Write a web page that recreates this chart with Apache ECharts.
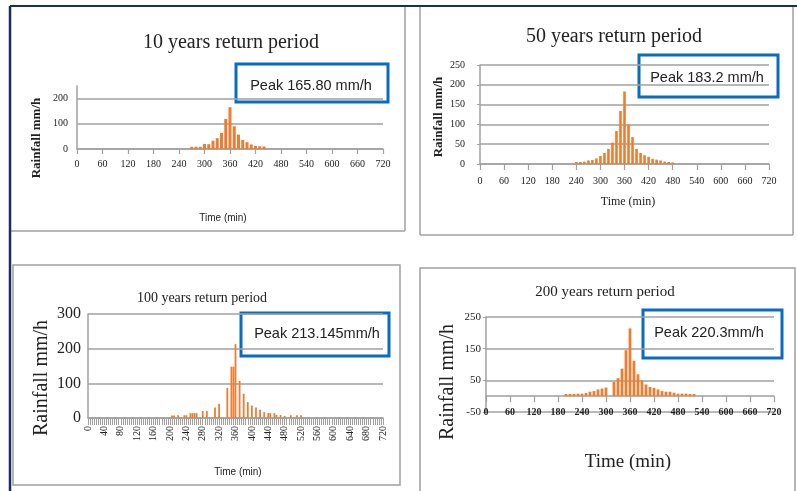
<!DOCTYPE html>
<html><head><meta charset="utf-8">
<script src="https://cdn.jsdelivr.net/npm/echarts@6/dist/echarts.min.js"></script>
<style>html,body{margin:0;padding:0;background:#fff}#c{width:797px;height:491px}</style>
</head><body><div id="c"></div>
<script>
// ---- data ----
const times10 = [270,280,290,300,310,320,330,340,350,360,370,380,390,400,410,420,430,440];
const rain10  = [9,9,9,20,19,33,43,64,119,165.8,90,57,36,27,18,12,11,10];

const times50 = [240,250,260,270,280,290,300,310,320,330,340,350,360,370,380,390,400,410,420,430,440,450,460,470,480];
const rain50  = [5,5,6,9,10,14,20,28,38,54,83,134,183.2,100,68,38,28,22,18,13,11,9,6,5,4];

const times100 = [205,210,220,235,240,250,255,260,265,280,290,310,320,340,350,355,360,370,380,390,400,410,420,430,440,445,455,460,470,480,495,510,520];
const rain100  = [7,7,8,8,8,14,14,14,14,20,20,30,41,87,148,148,213.1,107,70,46,36,30,24,17,14,14,14,9,9,6,8,8,8];

const times200 = [200,210,220,230,240,250,260,270,280,290,300,320,330,340,350,360,370,380,390,400,410,420,430,440,450,460,470,480,490,500,510,520];
const rain200  = [7,7,7,8,8,10,14,16,21,24,27,45,57,87,145,214,112,69,50,37,29,26,21,16,14,14,11,8,8,8,7,7];

const xTicks60 = [0,60,120,180,240,300,360,420,480,540,600,660,720];
const xTicks40 = [0,40,80,120,160,200,240,280,320,360,400,440,480,520,560,600,640,680,720];
const yTicks10 = [0,100,200];
const yTicks50 = [0,50,100,150,200,250];
const yTicks100 = [0,100,200,300];
const yTicks200 = [-50,50,150,250];

const titles = ['10 years return period','50 years return period','100 years return period','200 years return period'];
const peaks = ['Peak 165.80 mm/h','Peak 183.2 mm/h','Peak 213.145mm/h','Peak 220.3mm/h'];

// ---- styling ----
const SERIF = '"Liberation Serif", "Times New Roman", serif';
const SANS = '"Liberation Sans", Arial, sans-serif';
const GRAY = '#a0a0a0';
const NAVY = '#1c2c5e';
const BLUE = '#0a6cc0';
const ORANGE = '#ED7D31';
const TXT = '#222';

function pairs(t, v){ return t.map((x,i)=>[x, v[i]]); }
function step(a){ return a[1]-a[0]; }

function xAxis(idx, ticks, o){
  return Object.assign({
    gridIndex: idx, type:'value', min: ticks[0], max: ticks[ticks.length-1], interval: step(ticks),
    axisLine:{show:true, onZero:true, lineStyle:{color:GRAY, width:1.5}},
    axisTick:{show:true, length:5, lineStyle:{color:GRAY, width:1.2}},
    axisLabel:{margin:10, fontFamily:SERIF, fontSize:10, color:TXT},
    splitLine:{show:false}
  }, o);
}
function yAxis(idx, ticks, max, o){
  return Object.assign({
    gridIndex: idx, type:'value', min: ticks[0], max: max, interval: step(ticks),
    axisLine:{show:true, lineStyle:{color:GRAY, width:1.5}},
    axisTick:{show:false},
    axisLabel:{margin:9, fontFamily:SERIF, fontSize:10, color:TXT, showMaxLabel: max === ticks[ticks.length-1]},
    splitLine:{show:true, showMaxLine: max === ticks[ticks.length-1], lineStyle:{color:GRAY, width:1.5}}
  }, o);
}

const option = {
  animation:false,
  backgroundColor:'#fff',
  grid:[
    {left:77, top:86, width:306, height:63, outerBoundsMode:'none'},
    {left:480, top:65, width:289, height:99, outerBoundsMode:'none'},
    {left:88, top:314, width:295, height:104, outerBoundsMode:'none'},
    {left:486, top:317, width:288, height:95, outerBoundsMode:'none'}
  ],
  xAxis:[
    xAxis(0, xTicks60, {}),
    xAxis(1, xTicks60, {axisTick:{show:true,length:6,lineStyle:{color:GRAY,width:1.2}}, axisLabel:{margin:12, fontFamily:SERIF, fontSize:10, color:TXT}}),
    xAxis(2, xTicks40, {
      axisTick:{show:true,length:7,lineStyle:{color:GRAY,width:1}},
      minorTick:{show:true, splitNumber:8, length:7, lineStyle:{color:GRAY,width:1}},
      axisLabel:{margin:8, rotate:90, fontFamily:SERIF, fontSize:10, color:TXT}
    }),
    xAxis(3, xTicks60, {axisTick:{show:true,length:6,lineStyle:{color:GRAY,width:1.2}}, axisLabel:{margin:-5, fontFamily:SERIF, fontSize:10, fontWeight:'bold', color:TXT}})
  ],
  yAxis:[
    yAxis(0, yTicks10, 250, {}),
    yAxis(1, yTicks50, 250, {axisTick:{show:true,length:3,lineStyle:{color:GRAY}}, axisLabel:{margin:15, fontFamily:SERIF, fontSize:10, color:TXT}}),
    yAxis(2, yTicks100, 300, {axisLabel:{margin:7, fontFamily:SERIF, fontSize:16, color:TXT}}),
    yAxis(3, yTicks200, 250, {axisTick:{show:true,length:3,lineStyle:{color:GRAY}}, axisLabel:{margin:5, fontFamily:SERIF, fontSize:11, color:TXT}})
  ],
  series:[
    {type:'bar', xAxisIndex:0, yAxisIndex:0, barWidth:3, data:pairs(times10, rain10), itemStyle:{color:ORANGE}},
    {type:'bar', xAxisIndex:1, yAxisIndex:1, barWidth:2.6, data:pairs(times50, rain50), itemStyle:{color:ORANGE}},
    {type:'bar', xAxisIndex:2, yAxisIndex:2, barWidth:1.8, data:pairs(times100, rain100), itemStyle:{color:ORANGE}},
    {type:'bar', xAxisIndex:3, yAxisIndex:3, barWidth:2.8, data:pairs(times200, rain200), itemStyle:{color:ORANGE}}
  ],
  graphic:{elements:[]}
};

const G = option.graphic.elements;
function line(x1,y1,x2,y2,c,w){ G.push({type:'line', silent:true, shape:{x1,y1,x2,y2}, style:{stroke:c, lineWidth:w}}); }
function text(x,y,s,font,opt){
  G.push(Object.assign({type:'text', x, y, silent:true,
    style:{text:s, font:font, fill:TXT, align:'center', verticalAlign:'middle', textAlign:'center', textVerticalAlign:'middle'}}, opt||{}));
}
function box(x,y,w,h){ G.push({type:'rect', silent:true, shape:{x,y,width:w,height:h}, style:{fill:'none', stroke:BLUE, lineWidth:3}}); }

// panel frames
line(420,7,420,235,GRAY,1.5); line(420,235,793,235,GRAY,1.5); line(793,7,793,235,GRAY,1.5);
line(405,6,405,231,GRAY,1.5); line(10,231,405,231,GRAY,1.5);
G.push({type:'rect', silent:true, shape:{x:13,y:265,width:387,height:220}, style:{fill:'none', stroke:GRAY, lineWidth:1.5}});
G.push({type:'rect', silent:true, shape:{x:420,y:268,width:375,height:230}, style:{fill:'none', stroke:GRAY, lineWidth:1.5}});
line(10,6,797,6,NAVY,2); line(10,6,10,491,NAVY,2.5);

// titles
text(231,43,titles[0],'20px '+SERIF);
text(614,37,titles[1],'20px '+SERIF);
text(202,298,titles[2],'14px '+SERIF);
text(605,292,titles[3],'15px '+SERIF);

// axis names
text(37,138,'Rainfall mm/h','bold 13px '+SERIF,{rotation:Math.PI/2});
text(223,218,'Time (min)','10px '+SANS);
text(439,117,'Rainfall mm/h','bold 13px '+SERIF,{rotation:Math.PI/2});
text(628,202,'Time (min)','12px '+SERIF);
text(42,378,'Rainfall mm/h','20px '+SERIF,{rotation:Math.PI/2});
text(238,472,'Time (min)','10px '+SANS);
text(448,382,'Rainfall mm/h','20px '+SERIF,{rotation:Math.PI/2});
text(628,462,'Time (min)','19px '+SERIF);

// peak boxes
box(236,64,152,38); text(311,86,peaks[0],'14.5px '+SANS);
box(639,55,139,42); text(707,78,peaks[1],'14.5px '+SANS);
box(241,313,148,43); text(317,334,peaks[2],'14.5px '+SANS);
box(643,310,139,48); text(709,333,peaks[3],'14.5px '+SANS);

const chart = echarts.init(document.getElementById('c'), null, {renderer:'canvas'});
chart.setOption(option);
</script></body></html>
